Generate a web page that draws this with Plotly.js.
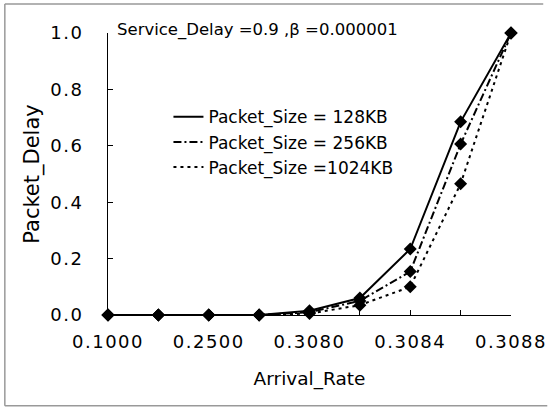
<!DOCTYPE html>
<html>
<head>
<meta charset="utf-8">
<script src="https://cdn.plot.ly/plotly-3.0.1.min.js"></script>
<style>
html,body{margin:0;padding:0;background:#fff;}
#chart{width:549px;height:407px;}
.xtick text, .ytick text {letter-spacing: 1.5px;}
</style>
</head>
<body>
<div id="chart"></div>
<script>
// Categories along the x axis (only every other one is labelled in the original)
const categories = ["0.1000", "0.2000", "0.2500", "0.3000", "0.3080", "0.3082", "0.3084", "0.3086", "0.3088"];
const tickLabels = ["0.1000", "", "0.2500", "", "0.3080", "", "0.3084", "", "0.3088"];

const seriesNames = ["Packet_Size = 128KB", "Packet_Size = 256KB", "Packet_Size =1024KB"];
const delay128 = [0, 0, 0, 0, 0.015, 0.06, 0.234, 0.685, 1.0];
const delay256 = [0, 0, 0, 0, 0.010, 0.05, 0.154, 0.606, 1.0];
const delay1024 = [0, 0, 0, 0, 0.005, 0.035, 0.100, 0.465, 1.0];

const annotationText = "Service_Delay =0.9 ,\u03B2 =0.000001";

const xIdx = categories.map((c, i) => i);
const series = [delay128, delay256, delay1024];
const dashes = ["solid", "8px,3px,2px,3px", "3px,4px"];

const traces = [];
series.forEach((ys, k) => {
  traces.push({
    x: xIdx, y: ys, type: "scatter", mode: "lines",
    name: seriesNames[k],
    line: {color: "#000", width: 2, dash: dashes[k]},
    showlegend: true, cliponaxis: false, hoverinfo: "skip"
  });
});
series.forEach((ys, k) => {
  traces.push({
    x: xIdx, y: ys, type: "scatter", mode: "markers",
    marker: {symbol: "diamond", size: 10, color: "#000"},
    showlegend: false, cliponaxis: false, hoverinfo: "skip"
  });
});

const FONT = "DejaVu Sans, Arial, sans-serif";

const layout = {
  width: 549, height: 407,
  paper_bgcolor: "#fff", plot_bgcolor: "#fff",
  margin: {l: 108, r: 38, t: 33, b: 92},
  showlegend: true,
  legend: {
    x: 0.15, y: 0.765, xanchor: "left", yanchor: "top",
    bgcolor: "rgba(0,0,0,0)", borderwidth: 0,
    font: {family: FONT, size: 17, color: "#000"},
    tracegroupgap: 0
  },
  xaxis: {
    range: [0, 8], showgrid: false, zeroline: false,
    showline: true, linecolor: "#000", linewidth: 1,
    tickmode: "array", tickvals: xIdx, ticktext: tickLabels,
    ticks: "inside", ticklen: 5, tickcolor: "#000",
    ticklabelstandoff: 10,
    tickfont: {family: FONT, size: 18, color: "#000"},
    title: {text: "Arrival_Rate", font: {family: FONT, size: 18.5, color: "#000"}, standoff: 21}
  },
  yaxis: {
    range: [0, 1], showgrid: false, zeroline: false,
    showline: true, linecolor: "#000", linewidth: 1,
    dtick: 0.2, tick0: 0, tickformat: ".1f",
    ticks: "inside", ticklen: 5, tickcolor: "#000",
    ticklabelstandoff: 20,
    tickfont: {family: FONT, size: 18, color: "#000"},
    title: {text: "Packet_Delay", font: {family: FONT, size: 21, color: "#000"}, standoff: 4}
  },
  annotations: [{
    text: annotationText, xref: "paper", yref: "paper",
    x: 0.017, y: 1.01, xanchor: "left", yanchor: "middle",
    showarrow: false, font: {family: FONT, size: 16.5, color: "#000"}
  }],
  shapes: [
    {type: "line", xref: "paper", yref: "paper", x0: -0.256, x1: -0.256, y0: 1.103, y1: -0.322, line: {color: "#999", width: 1.5}},
    {type: "line", xref: "paper", yref: "paper", x0: -0.256, x1: 1.08, y0: 1.103, y1: 1.103, line: {color: "#999", width: 1.5}},
    {type: "line", xref: "paper", yref: "paper", x0: -0.256, x1: 1.09, y0: -0.322, y1: -0.322, line: {color: "#999", width: 1.5}}
  ]
};

Plotly.newPlot("chart", traces, layout, {staticPlot: true, displayModeBar: false});
</script>
</body>
</html>
